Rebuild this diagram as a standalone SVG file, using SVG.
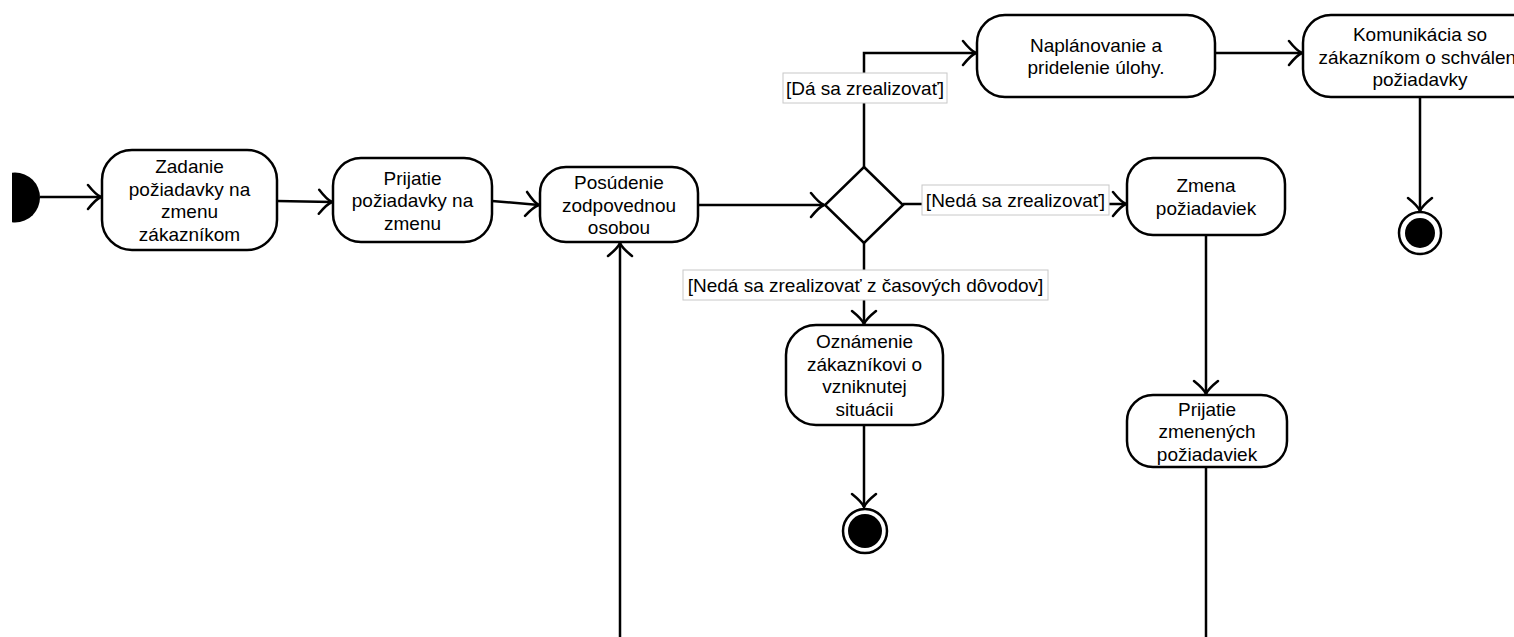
<svg xmlns="http://www.w3.org/2000/svg" width="1514" height="637" viewBox="0 0 1514 637">
<style>
.node rect{fill:#fff;stroke:#000;stroke-width:2.5}
.node text,.lbl text{font-family:"Liberation Sans",Arial,sans-serif;font-size:19px;fill:#000;text-anchor:middle}
.lbl rect{fill:#fff;stroke:#c8c8c8;stroke-width:1}
.edge{fill:none;stroke:#000;stroke-width:2.5;marker-end:url(#open)}
</style>
<defs>
<marker id="open" viewBox="-16 -15 18 30" refX="0" refY="0" markerWidth="18" markerHeight="30" markerUnits="userSpaceOnUse" orient="auto">
<path d="M-13,-12 Q-5,-2 0,0 Q-5,2 -13,12" fill="none" stroke="#000" stroke-width="2.5" stroke-linecap="round"/>
</marker>
<clipPath id="initclip"><rect x="12" y="0" width="100" height="637"/></clipPath>
</defs>
<rect width="1514" height="637" fill="#fff"/>
<g id="connectors">
<path class="edge" d="M40,197 L101,197"/>
<path class="edge" d="M277,201 L332,202"/>
<path class="edge" d="M492,201 L539,205"/>
<path class="edge" d="M698,205 L824,205"/>
<path class="edge" d="M864,167 L864,53 L976,53"/>
<path class="edge" d="M903,204 L1126,204"/>
<path class="edge" d="M864,243 L864,324"/>
<path class="edge" d="M864,425 L864,507"/>
<path class="edge" d="M1215,53 L1302,53"/>
<path class="edge" d="M1420,97 L1420,211"/>
<path class="edge" d="M1206,235 L1206,394"/>
<path class="edge" style="marker-end:none" d="M1206,467 L1206,637"/>
<path class="edge" d="M620,637 L620,243"/>
</g>
<g id="labels">
<g class="lbl" id="lbl-da"><rect x="783" y="73" width="164" height="30"/><text x="865" y="95">[Dá sa zrealizovať]</text></g>
<g class="lbl" id="lbl-neda"><rect x="922" y="185" width="187" height="30"/><text x="1015.5" y="207">[Nedá sa zrealizovať]</text></g>
<g class="lbl" id="lbl-cas"><rect x="683" y="270" width="365" height="30"/><text x="865.5" y="292">[Nedá sa zrealizovať z časových dôvodov]</text></g>
</g>
<g id="initial"><circle cx="15" cy="197.5" r="25" fill="#000" clip-path="url(#initclip)"/></g>
<g class="node" id="n-zadanie"><rect x="102" y="150" width="175" height="100" rx="30"/><text x="189.5" y="173">Zadanie</text><text x="189.5" y="195.5">požiadavky na</text><text x="189.5" y="218">zmenu</text><text x="189.5" y="240.5">zákazníkom</text></g>
<g class="node" id="n-prijatie"><rect x="333" y="158" width="159" height="84" rx="28"/><text x="412.5" y="184.5">Prijatie</text><text x="412.5" y="207">požiadavky na</text><text x="412.5" y="229.5">zmenu</text></g>
<g class="node" id="n-posudenie"><rect x="540" y="167" width="158" height="75" rx="26"/><text x="619" y="189">Posúdenie</text><text x="619" y="211.5">zodpovednou</text><text x="619" y="234">osobou</text></g>
<g class="node" id="decision"><polygon points="864,167 903,205 864,243 825,205" fill="#fff" stroke="#000" stroke-width="2.5"/></g>
<g class="node" id="n-naplanovanie"><rect x="977" y="15" width="238" height="82" rx="28"/><text x="1096" y="51.5">Naplánovanie a</text><text x="1096" y="74">pridelenie úlohy.</text></g>
<g class="node" id="n-komunikacia"><rect x="1303" y="15" width="240" height="82" rx="28"/><text x="1420" y="41">Komunikácia so</text><text x="1420" y="63.5">zákazníkom o schválení</text><text x="1420" y="86">požiadavky</text></g>
<g class="node" id="n-zmena"><rect x="1127" y="158" width="158" height="77" rx="26"/><text x="1206" y="192">Zmena</text><text x="1206" y="214.5">požiadaviek</text></g>
<g class="node" id="n-prijatie-zmenenych"><rect x="1127" y="395" width="160" height="72" rx="26"/><text x="1207" y="415.5">Prijatie</text><text x="1207" y="438">zmenených</text><text x="1207" y="460.5">požiadaviek</text></g>
<g class="node" id="n-oznamenie"><rect x="786" y="325" width="157" height="100" rx="30"/><text x="864.5" y="348">Oznámenie</text><text x="864.5" y="370.5">zákazníkovi o</text><text x="864.5" y="393">vzniknutej</text><text x="864.5" y="415.5">situácii</text></g>
<g id="final-1"><circle cx="865" cy="531" r="22" fill="#fff" stroke="#000" stroke-width="2.5"/><circle cx="865" cy="531" r="17" fill="#000"/></g>
<g id="final-2"><circle cx="1420" cy="233" r="21" fill="#fff" stroke="#000" stroke-width="2.5"/><circle cx="1420" cy="233" r="15" fill="#000"/></g>
</svg>
